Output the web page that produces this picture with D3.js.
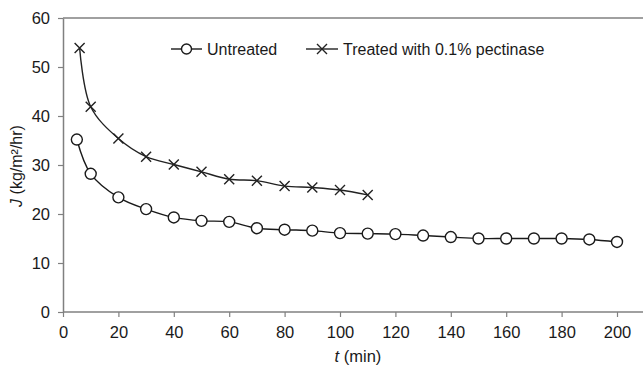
<!DOCTYPE html>
<html>
<head>
<meta charset="utf-8">
<script src="https://cdn.jsdelivr.net/npm/d3@7"></script>
<style>
  body { margin: 0; background: #fff; }
  svg { font-family: Arial, "Liberation Sans", sans-serif; }
</style>
</head>
<body>
<div id="app"></div>
<script>
const untreatedT = [5, 10, 20, 30, 40, 50, 60, 70, 80, 90, 100, 110, 120, 130, 140, 150, 160, 170, 180, 190, 200];
const untreatedJ = [35.2, 28.2, 23.4, 21.0, 19.3, 18.6, 18.4, 17.1, 16.8, 16.6, 16.1, 16.0, 15.9, 15.6, 15.3, 15.0, 15.0, 15.0, 15.0, 14.8, 14.3];
const treatedT = [6, 10, 20, 30, 40, 50, 60, 70, 80, 90, 100, 110];
const treatedJ = [53.9, 41.9, 35.4, 31.7, 30.1, 28.6, 27.1, 26.8, 25.7, 25.4, 24.9, 23.9];
const xTicks = [0, 20, 40, 60, 80, 100, 120, 140, 160, 180, 200];
const yTicks = [0, 10, 20, 30, 40, 50, 60];

const width = 643;
const height = 367;
const margin = { top: 18, right: 0, bottom: 55, left: 63 };

const svg = d3.select('#app')
  .append('svg')
  .attr('width', width)
  .attr('height', height);

const x = d3.scaleLinear()
  .domain([0, 210])
  .range([margin.left, margin.left + 210 * 2.77]);

const y = d3.scaleLinear()
  .domain([0, 60])
  .range([height - margin.bottom, margin.top]);

const axisColor = '#808080';
const ink = '#1a1a1a';

// top border line
svg.append('line')
  .attr('x1', margin.left).attr('x2', width)
  .attr('y1', y(60)).attr('y2', y(60))
  .attr('stroke', axisColor).attr('stroke-width', 1.5);

const xAxis = svg.append('g')
  .attr('transform', `translate(0, ${y(0)})`)
  .call(d3.axisBottom(x).tickValues(xTicks).tickSize(5).tickPadding(9).tickSizeOuter(0));

const yAxis = svg.append('g')
  .attr('transform', `translate(${x(0)}, 0)`)
  .call(d3.axisLeft(y).tickValues(yTicks).tickSize(5).tickPadding(8).tickSizeOuter(0));

[xAxis, yAxis].forEach(a => {
  a.select('.domain').attr('stroke', axisColor).attr('stroke-width', 1.5);
  a.selectAll('.tick line').attr('stroke', axisColor).attr('stroke-width', 1.2);
  a.selectAll('.tick text')
    .attr('fill', ink)
    .style('font-size', '16.5px')
    .style('font-family', 'Arial, "Liberation Sans", sans-serif');
});
// extend x axis line to right edge
xAxis.select('.domain').attr('d', `M${x(0)},0H${width}`);

const untreated = untreatedT.map((t, i) => ({ t: t, j: untreatedJ[i] }));
const treated = treatedT.map((t, i) => ({ t: t, j: treatedJ[i] }));

const line = d3.line()
  .x(d => x(d.t))
  .y(d => y(d.j))
  .curve(d3.curveCatmullRom.alpha(0.5));

svg.append('path')
  .datum(treated)
  .attr('d', line)
  .attr('fill', 'none')
  .attr('stroke', '#222')
  .attr('stroke-width', 1.4);

svg.append('path')
  .datum(untreated)
  .attr('d', line)
  .attr('fill', 'none')
  .attr('stroke', ink)
  .attr('stroke-width', 1.4);

const xs = 5;
function cross(g, cx, cy) {
  g.append('path')
    .attr('d', `M${cx - xs},${cy - xs}L${cx + xs},${cy + xs}M${cx - xs},${cy + xs}L${cx + xs},${cy - xs}`)
    .attr('stroke', '#222')
    .attr('stroke-width', 1.4)
    .attr('fill', 'none');
}

const crossG = svg.append('g');
treated.forEach(d => cross(crossG, x(d.t), y(d.j)));

svg.append('g')
  .selectAll('circle')
  .data(untreated)
  .enter()
  .append('circle')
  .attr('cx', d => x(d.t))
  .attr('cy', d => y(d.j))
  .attr('r', 5.5)
  .attr('fill', '#fff')
  .attr('stroke', ink)
  .attr('stroke-width', 1.4);

// legend
const legend = svg.append('g');
const ly = 49;
legend.append('line')
  .attr('x1', 171).attr('x2', 202).attr('y1', ly).attr('y2', ly)
  .attr('stroke', ink).attr('stroke-width', 1.4);
legend.append('circle')
  .attr('cx', 186.5).attr('cy', ly).attr('r', 5)
  .attr('fill', '#fff').attr('stroke', ink).attr('stroke-width', 1.4);
legend.append('text')
  .attr('x', 207).attr('y', ly).attr('dy', '0.35em')
  .style('font-size', '16px').attr('fill', ink)
  .text('Untreated');

legend.append('line')
  .attr('x1', 306).attr('x2', 338).attr('y1', ly).attr('y2', ly)
  .attr('stroke', '#222').attr('stroke-width', 1.4);
cross(legend, 322, ly);
legend.append('text')
  .attr('x', 343).attr('y', ly).attr('dy', '0.35em')
  .style('font-size', '16px').attr('fill', ink)
  .text('Treated with 0.1% pectinase');

// axis titles
svg.append('text')
  .attr('x', 358).attr('y', 362)
  .attr('text-anchor', 'middle')
  .style('font-size', '16.5px').attr('fill', ink)
  .call(t => {
    t.append('tspan').style('font-style', 'italic').text('t');
    t.append('tspan').text(' (min)');
  });

svg.append('text')
  .attr('transform', `translate(22, ${y(30) + 1}) rotate(-90)`)
  .attr('text-anchor', 'middle')
  .style('font-size', '16px').attr('fill', ink)
  .call(t => {
    t.append('tspan').style('font-style', 'italic').text('J');
    t.append('tspan').text(' (kg/m\u00B2/hr)');
  });
</script>
</body>
</html>
